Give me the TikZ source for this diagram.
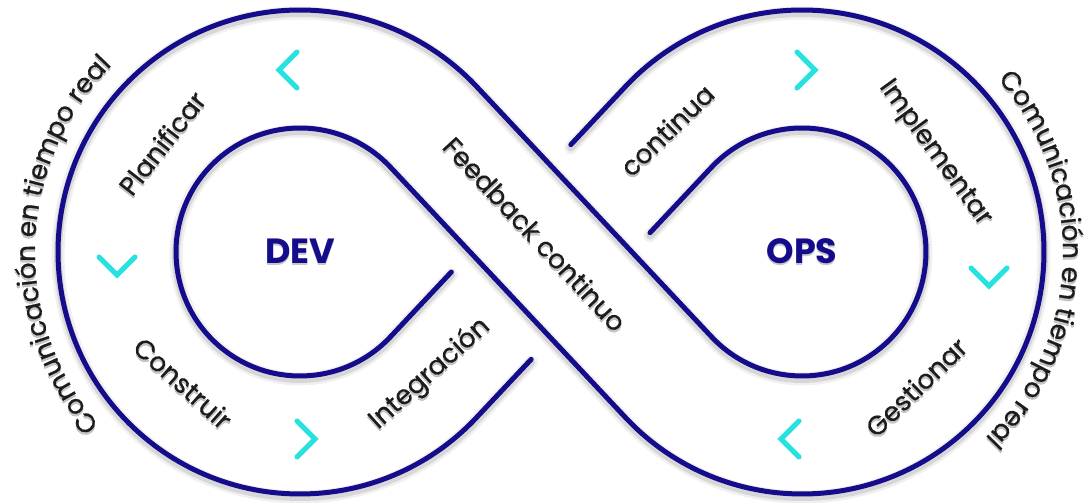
\documentclass[tikz,border=0pt]{standalone}
\usepackage{fontspec}
\setmainfont{Poppins}
\newfontfamily\medfont[FakeBold=0.6]{Poppins}
\usetikzlibrary{calc,decorations.text}
\definecolor{navy}{RGB}{20,12,138}
\definecolor{aqua}{RGB}{40,226,226}
\definecolor{ink}{RGB}{28,28,28}
\newcommand\lblfont{\medfont\fontsize{26.5}{26.5}\selectfont}
\newcommand\bigfont{\fontsize{35}{35}\selectfont\bfseries}
\newcommand\infpaths[1]{%
  \draw[#1] (e1) -- ($(c1)+(-43.2:242)$) arc[start angle=-43.2, end angle=-316.8, radius=242]
     -- ($(c2)+(223.2:124)$) arc[start angle=223.2, end angle=496.8, radius=124] -- (e2);
  \draw[#1] (e3) -- ($(c1)+(-43.2:124)$) arc[start angle=-43.2, end angle=-316.8, radius=124]
     -- ($(c2)+(223.2:242)$) arc[start angle=223.2, end angle=496.8, radius=242] -- (e4);
}
% #1 text colour, #2 hub colour, #3 name suffix
\newcommand\alltexts[3]{%
  \path[decorate, decoration={text along path, text align=center,
    text={|\lblfont\color{#1}|Comunicación en tiempo real}}]
    ($(c1)+(223:265)$) arc[start angle=223, end angle=133, radius=265];
  \path[decorate, decoration={text along path, text align=center,
    text={|\lblfont\color{#1}|Comunicación en tiempo real}}]
    ($(c2)+(46:261)$) arc[start angle=46, end angle=-50, radius=261];
  \node[lbl, text=#1, rotate=52] (plan#3) at (162,360) {Planificar};
  \node[lbl, text=#1, rotate=-42] (cons#3) at (183,120) {Construir};
  \node[lbl, text=#1, rotate=42] (integ#3) at (430,129) {Integración};
  \node[lbl, text=#1, rotate=-47] (feed#3) at (535,269) {Feedback continuo};
  \node[lbl, text=#1, rotate=44] (cont#3) at (667,373) {continua};
  \node[lbl, text=#1, rotate=-54] (impl#3) at (935,350) {Implementar};
  \node[lbl, text=#1, rotate=44] (gest#3) at (916,116) {Gestionar};
  \node[hub, text=#2] (dev#3) at (300,252) {DEV};
  \node[hub, text=#2] (ops#3) at (802,252) {OPS};
}
\begin{document}
\begin{tikzpicture}[x=1pt,y=1pt,
  band/.style={draw=navy, line width=5pt, line cap=round, line join=round},
  shA/.style={draw=black, opacity=0.06, line width=13pt, line cap=round},
  shB/.style={draw=black, opacity=0.10, line width=8pt, line cap=round},
  chevline/.style={draw=aqua, line width=5pt, line cap=round, line join=miter},
  lbl/.style={font=\lblfont, inner sep=0pt},
  hub/.style={font=\bigfont, inner sep=0pt},
  chevron/.pic={\draw[chevline] (-9,18) -- (9,0) -- (-9,-18);}
]
\useasboundingbox (0,0) rectangle (1089,503);
\fill[white] (0,0) rectangle (1089,503);
\coordinate (c1) at (300,251);
\coordinate (c2) at (802,251);
\coordinate (e1) at ($(c1)+(-43.2:242)+(46.8:80)$);
\coordinate (e2) at ($(c2)+(136.8:124)+(226.8:90)$);
\coordinate (e3) at ($(c1)+(-43.2:124)+(46.8:89)$);
\coordinate (e4) at ($(c2)+(136.8:242)+(226.8:80)$);
% shadows
\begin{scope}[transform canvas={yshift=-3pt}]
  \infpaths{shA}
  \infpaths{shB}
\end{scope}
\begin{scope}[transform canvas={yshift=-2.5pt}, opacity=0.22]
  \alltexts{black}{black}{s}
\end{scope}
% loop
\infpaths{band}
% chevrons
\pic[rotate=180] (ch1) at (288,433) {chevron};
\pic[rotate=-90] (ch2) at (117,237) {chevron};
\pic (ch3) at (306,64) {chevron};
\pic (ch4) at (806,433) {chevron};
\pic[rotate=-90] (ch5) at (989,226) {chevron};
\pic[rotate=180] (ch6) at (790,64) {chevron};
% texts
\alltexts{ink}{navy}{}
\end{tikzpicture}
\end{document}
